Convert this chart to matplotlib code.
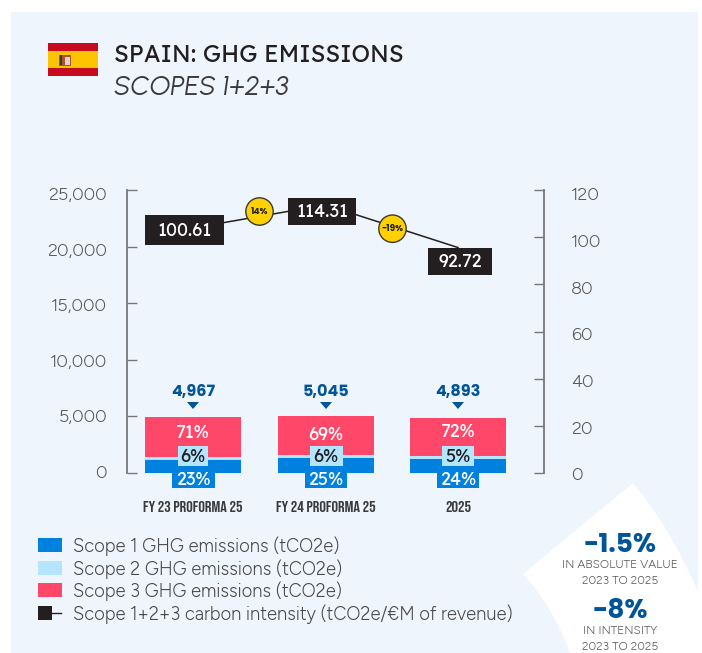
import matplotlib
matplotlib.use('Agg')
import matplotlib.pyplot as plt
from matplotlib.patches import Rectangle, Circle, Polygon, PathPatch
from matplotlib.path import Path

# Data
categories = ['FY 23 PROFORMA 25', 'FY 24 PROFORMA 25', '2025']
scope1 = [1130, 1300, 1240]
scope2 = [270, 265, 270]
scope3 = [3567, 3480, 3383]
totals = ['4,967', '5,045', '4,893']
scope1_pct = ['23%', '25%', '24%']
scope2_pct = ['6%', '6%', '5%']
scope3_pct = ['71%', '69%', '72%']
intensity_line = [103.9, 113.7, 95.6]
intensity_labels = ['100.61', '114.31', '92.72']
change_labels = ['14%', '-19%']
left_ticks = [0, 5000, 10000, 15000, 20000, 25000]
right_ticks = [0, 20, 40, 60, 80, 100, 120]
legend_labels = ['Scope 1 GHG emissions (tCO2e)', 'Scope 2 GHG emissions (tCO2e)',
                 'Scope 3 GHG emissions (tCO2e)', 'Scope 1+2+3 carbon intensity (tCO2e/€M of revenue)']

BLUE = '#0080DF'
LIGHT = '#B3E5FF'
PINK = '#FF4869'
BLACK = '#231F20'
NAVY = '#00549A'
GREY = '#58585A'
PANEL = '#EFF5FC'

plt.rcParams['font.family'] = ['Lato', 'DejaVu Sans']
HEAD = ['Lexend', 'Lato']
BODY = ['Figtree', 'Lato']
BOLD = ['Poppins', 'Lato']
TALL = ['Bebas Neue', 'Liberation Sans']

W, H = 702, 653
fig = plt.figure(figsize=(W / 100, H / 100), dpi=100, facecolor='white')


def pixel_axes(z):
    a = fig.add_axes([0, 0, 1, 1], zorder=z)
    a.set_xlim(0, W)
    a.set_ylim(H, 0)
    a.axis('off')
    a.patch.set_alpha(0)
    return a


bg = pixel_axes(0)
fg = pixel_axes(5)

# Panel and white corner shape
bg.add_patch(Rectangle((11, 12), 687, 641, fc=PANEL, ec='none'))
verts = [(633, 483), (672, 530), (698, 592), (698, 653), (570, 653), (552, 605), (523, 574), (633, 483)]
codes = [Path.MOVETO, Path.CURVE3, Path.CURVE3, Path.LINETO, Path.LINETO, Path.CURVE3, Path.CURVE3, Path.CLOSEPOLY]
bg.add_patch(PathPatch(Path(verts, codes), fc='white', ec='none'))

# Flag
bg.add_patch(Rectangle((48, 43), 50, 33, fc='#C60B1E', ec='none'))
bg.add_patch(Rectangle((48, 51), 50, 17, fc='#FFC400', ec='none'))
bg.add_patch(Rectangle((59, 55), 12, 11, fc='#A8552A', ec='none'))
bg.add_patch(Rectangle((65, 57), 5, 8, fc='#E3D0D6', ec='none'))
bg.add_patch(Rectangle((60, 55), 2, 10, fc='#3A3A3A', ec='none'))

# Title
bg.text(114, 55, 'SPAIN: GHG EMISSIONS', fontsize=17.1, family=HEAD, color=BLACK, va='center')
bg.text(114, 88, 'SCOPES 1+2+3', fontsize=19.5, family=['Urbanist', 'Lato'], style='italic', color='#3A3A3C', va='center')

# Axes span x 127-544, y 190-473 in pixels, bars are 132.5 px apart
ax = fig.add_axes([127 / W, 1 - 473 / H, (544 - 127) / W, (473 - 190) / H], zorder=1)
ax.patch.set_alpha(0)
ax.set_xlim((127 - 193) / 132.5, (544 - 193) / 132.5)
ax.set_ylim(0, 25000)
xs = list(range(len(categories)))
bw = 96 / 132.5
bottom2 = [a for a in scope1]
bottom3 = [a + b for a, b in zip(scope1, scope2)]
ax.bar(xs, scope1, bw, color=BLUE)
ax.bar(xs, scope2, bw, bottom=bottom2, color=LIGHT)
ax.bar(xs, scope3, bw, bottom=bottom3, color=PINK)

for s in ['top', 'bottom', 'right']:
    ax.spines[s].set_visible(False)
ax.spines['left'].set_color('#77777A')
ax.spines['left'].set_linewidth(1.3)
ax.set_yticks(left_ticks)
ax.set_yticklabels([])
ax.tick_params(axis='y', direction='in', length=7.5, width=1, color='#77777A')
ax.set_xticks([])

ax2 = ax.twinx()
ax2.set_zorder(2)
ax2.patch.set_alpha(0)
ax2.set_ylim(0, 120)
for s in ['top', 'bottom', 'left']:
    ax2.spines[s].set_visible(False)
ax2.spines['right'].set_color('#77777A')
ax2.spines['right'].set_linewidth(1.3)
ax2.set_yticks(right_ticks)
ax2.set_yticklabels([])
ax2.tick_params(axis='y', direction='in', length=7.5, width=1, color='#77777A')
ax2.plot(xs, intensity_line, color=BLACK, lw=1.1)

# Tick labels sit slightly off their ticks in the original
for i, t in enumerate(left_ticks):
    off = -(1 + 5 * i / (len(left_ticks) - 1)) * 0.72
    ax.annotate(f'{t:,}', xy=(0, t), xycoords=ax.get_yaxis_transform(), xytext=(-14.4, off),
                textcoords='offset points', ha='right', va='center', fontsize=13, family=BODY, color=GREY)
for i, t in enumerate(right_ticks):
    off = -(3.5 + 3 * i / (len(right_ticks) - 1)) * 0.72
    ax2.annotate(str(t), xy=(1, t), xycoords=ax2.get_yaxis_transform(), xytext=(19.4, off),
                 textcoords='offset points', ha='left', va='center', fontsize=13, family=BODY, color=GREY)

# Labels around the bars
centers = [193, 326, 458]
s1_w = [43, 42, 42]
s2_w = [30, 33, 32]
for i, c in enumerate(centers):
    fg.add_patch(Rectangle((c - s1_w[i] / 2, 473), s1_w[i], 15, fc=BLUE, ec='none'))
    fg.text(c, 480, scope1_pct[i], color='white', fontsize=13, family=HEAD, ha='center', va='center')
    fg.add_patch(Rectangle((c - s2_w[i] / 2, 446), s2_w[i], 20, fc=LIGHT, ec='none'))
    fg.text(c, 456.5, scope2_pct[i], color=BLACK, fontsize=13, family=HEAD, ha='center', va='center')
    fg.text(c, [432.5, 435.5, 432][i], scope3_pct[i], color='white', fontsize=13, family=HEAD, ha='center', va='center')
    fg.text(c, 392, totals[i], color=NAVY, fontsize=11.5, family=BOLD, fontweight='bold', ha='center', va='center')
    fg.add_patch(Polygon([(c - 6, 402), (c + 6, 402), (c, 409)], fc=NAVY, ec='none'))
    fg.text(c, 506, categories[i], color='#3A3A3C', fontsize=11.8, ha='center', va='center', family=TALL)

# Intensity boxes and change bubbles
boxes = [(145, 215, 79, 30), (288, 198, 68, 27), (428, 248, 64, 27)]
for (x, y, w, h), lab in zip(boxes, intensity_labels):
    fg.add_patch(Rectangle((x, y), w, h, fc=BLACK, ec='none'))
    fg.text(x + w / 2, y + h / 2 + 0.5, lab, color='white', fontsize=13, family=HEAD, ha='center', va='center')
for (x, y), lab in zip([(259.5, 211.5), (392.5, 228.7)], change_labels):
    fg.add_patch(Circle((x, y), 13.7, fc='#FFD100', ec='#3A3A3A', lw=1))
    fg.text(x, y, lab, color=BLACK, fontsize=6.5, family=BOLD, fontweight='bold', ha='center', va='center')

# Legend
legend_colors = [BLUE, LIGHT, PINK]
legend_y = [545, 568, 590, 613]
for y, col in zip(legend_y, legend_colors):
    bg.add_patch(Rectangle((38, y - 7), 24, 14, fc=col, ec='none'))
bg.add_patch(Rectangle((38, 606), 14, 14, fc=BLACK, ec='none'))
bg.plot([52, 61], [613, 613], color=BLACK, lw=1)
for y, lab in zip(legend_y, legend_labels):
    bg.text(73, y + 1, lab, fontsize=13.2, family=BODY, color='#48484A', va='center')

# Call-out
bg.text(620, 545, '-1.5%', fontsize=19, family=BOLD, fontweight='bold', color=NAVY, ha='center', va='center')
bg.text(620, 564.5, 'IN ABSOLUTE VALUE', fontsize=8.6, family=BODY, color=GREY, ha='center', va='center')
bg.text(620, 580.5, '2023 TO 2025', fontsize=8.6, family=BODY, color=GREY, ha='center', va='center')
bg.text(620, 612, '-8%', fontsize=19, family=BOLD, fontweight='bold', color=NAVY, ha='center', va='center')
bg.text(620, 631.5, 'IN INTENSITY', fontsize=8.6, family=BODY, color=GREY, ha='center', va='center')
bg.text(620, 647.5, '2023 TO 2025', fontsize=8.6, family=BODY, color=GREY, ha='center', va='center')

fig.savefig('out.png', dpi=100)
